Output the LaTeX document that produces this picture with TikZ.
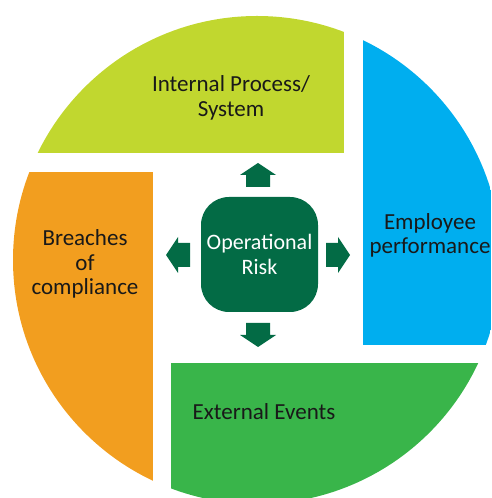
\documentclass[tikz,border=0pt]{standalone}
\usepackage{fontspec}
\setmainfont{Carlito}
\definecolor{lime}{HTML}{C1D72F}
\definecolor{sky}{HTML}{00AEEF}
\definecolor{leaf}{HTML}{39B54A}
\definecolor{amber}{HTML}{F29E1F}
\definecolor{forest}{HTML}{036B45}
\begin{document}
\begin{tikzpicture}[x=1pt,y=1pt,
    lbl/.style={font=\fontsize{23}{24.5}\selectfont,align=center,text=black!90}]
  \useasboundingbox (0,0) rectangle (491,498);

  % Four pieces cut out of one disc.
  \begin{scope}
    \clip (257,238) circle (244);
    \fill[lime]  (0,345) rectangle (344,498);
    \fill[sky]   (363,153) rectangle (491,498);
    \fill[leaf]  (171,0) rectangle (491,135);
    \fill[amber] (0,0) rectangle (153,326);
  \end{scope}

  % Central box and the four block arrows.
  \node[fill=forest,rounded corners=28pt,minimum width=117pt,minimum height=115pt,
        font=\fontsize{22}{24.5}\selectfont,align=center,text=white,inner sep=0pt]
    (oprisk) at (259.5,243.5) {Operational\\Risk};
  \foreach \a in {0,90,180,270}
    \fill[forest,shift={(258,243)},rotate=\a]
      (68,-12) -- (80,-12) -- (80,-18) -- (92,0) -- (80,18) -- (80,12) -- (68,12) -- cycle;

  % Labels of the pieces.
  \node[lbl] (inproc)   at (231,400) {Internal Process/\\System};
  \node[lbl] (employee) at (430,262.5) {Employee\\performance};
  \node[lbl] (breach)   at (85,234) {Breaches\\of\\compliance};
  \node[lbl] (external) at (264,86) {External Events};
\end{tikzpicture}
\end{document}
